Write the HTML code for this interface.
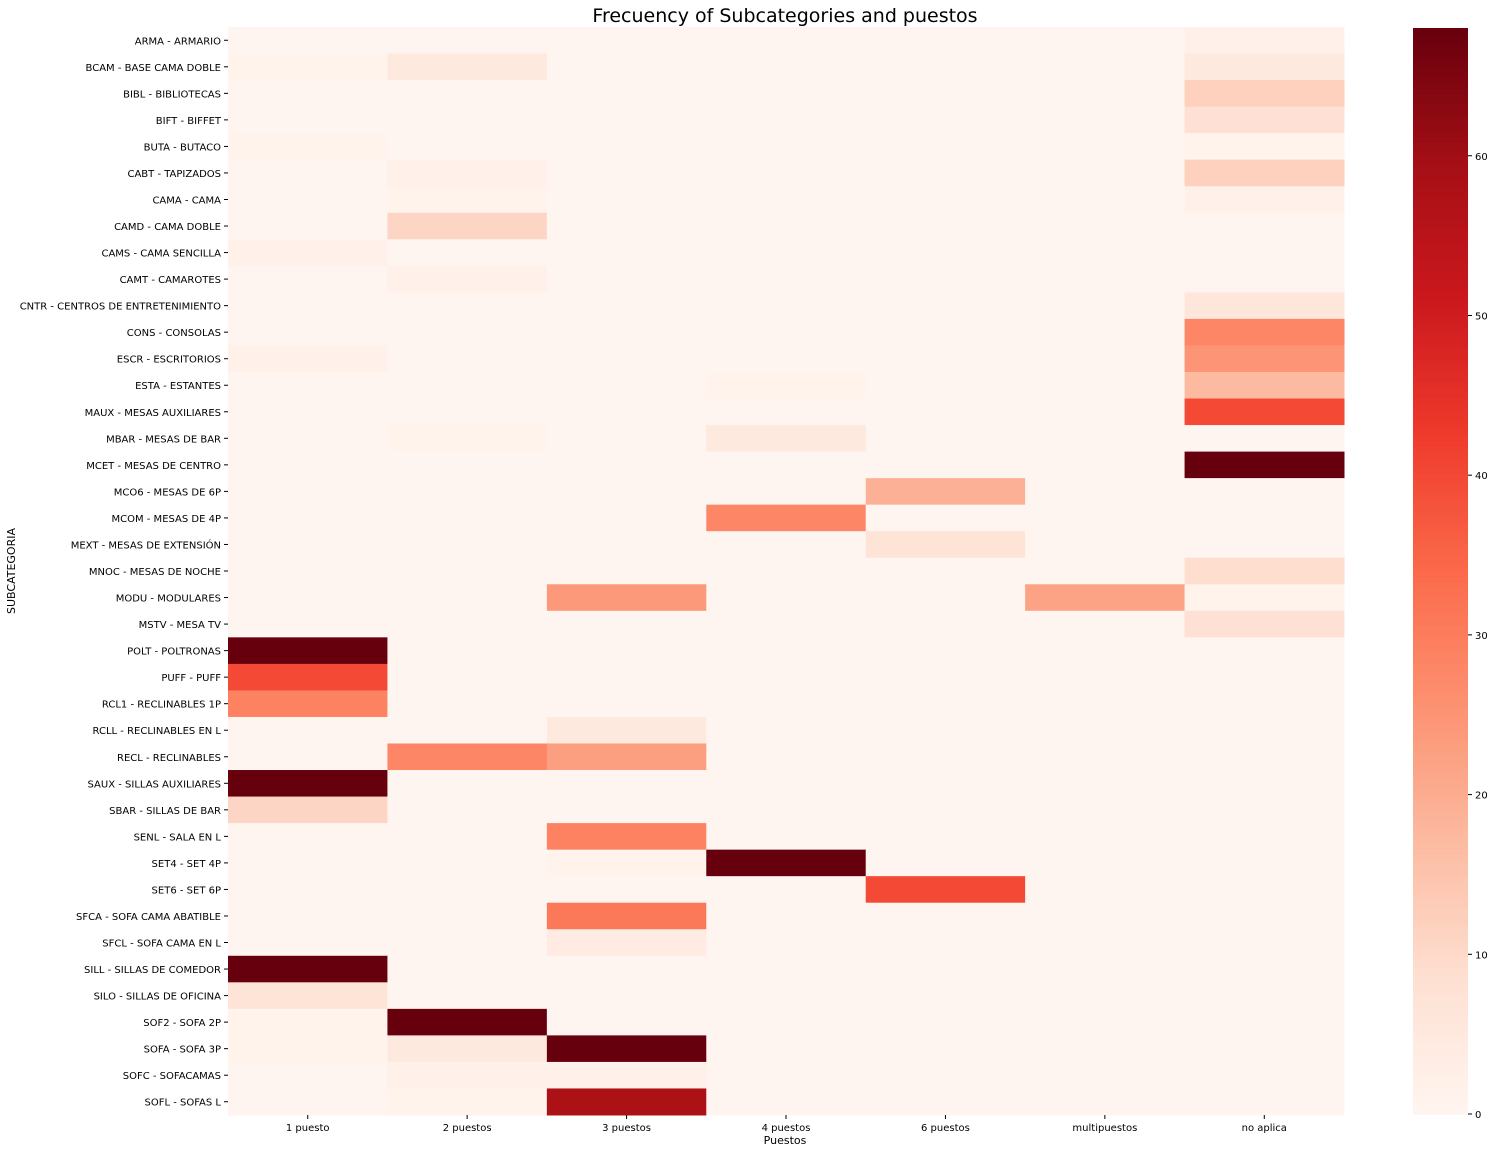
<!DOCTYPE html>
<html><head><meta charset="utf-8"><style>
body{margin:0;background:#fff;font-family:"Liberation Sans","DejaVu Sans",sans-serif}
svg text{font-family:"DejaVu Sans","Liberation Sans",sans-serif}
</style></head><body>
<svg id="chart" width="1494" height="1153" xmlns="http://www.w3.org/2000/svg">
<text x="785" y="22" font-size="19" text-anchor="middle">Frecuency of Subcategories and puestos</text>
<text x="785" y="1144" font-size="11" text-anchor="middle">Puestos</text>
<text x="15" y="571" font-size="11" text-anchor="middle" transform="rotate(-90 15 571)">SUBCATEGORIA</text>
<g id="cells"></g><g id="ylabels"></g><g id="xlabels"></g><g id="cbar"></g>
</svg>
<script>
const columns=["1 puesto","2 puestos","3 puestos","4 puestos","6 puestos","multipuestos","no aplica"];
const rows=["ARMA - ARMARIO","BCAM - BASE CAMA DOBLE","BIBL - BIBLIOTECAS","BIFT - BIFFET","BUTA - BUTACO","CABT - TAPIZADOS","CAMA - CAMA","CAMD - CAMA DOBLE","CAMS - CAMA SENCILLA","CAMT - CAMAROTES","CNTR - CENTROS DE ENTRETENIMIENTO","CONS - CONSOLAS","ESCR - ESCRITORIOS","ESTA - ESTANTES","MAUX - MESAS AUXILIARES","MBAR - MESAS DE BAR","MCET - MESAS DE CENTRO","MCO6 - MESAS DE 6P","MCOM - MESAS DE 4P","MEXT - MESAS DE EXTENSIÓN","MNOC - MESAS DE NOCHE","MODU - MODULARES","MSTV - MESA TV","POLT - POLTRONAS","PUFF - PUFF","RCL1 - RECLINABLES 1P","RCLL - RECLINABLES EN L","RECL - RECLINABLES","SAUX - SILLAS AUXILIARES","SBAR - SILLAS DE BAR","SENL - SALA EN L","SET4 - SET 4P","SET6 - SET 6P","SFCA - SOFA CAMA ABATIBLE","SFCL - SOFA CAMA EN L","SILL - SILLAS DE COMEDOR","SILO - SILLAS DE OFICINA","SOF2 - SOFA 2P","SOFA - SOFA 3P","SOFC - SOFACAMAS","SOFL - SOFAS L"];
const values=[
[0,0,0,0,0,0,2],[1,5,0,0,0,0,5],[0,0,0,0,0,0,12],[0,0,0,0,0,0,8],[1,0,0,0,0,0,1],
[0,2,0,0,0,0,12],[0,1,0,0,0,0,2],[0,11,0,0,0,0,0],[2,0,0,0,0,0,0],[0,2,0,0,0,0,0],
[0,0,0,0,0,0,6],[0,0,0,0,0,0,28],[2,0,0,0,0,0,25],[0,0,0,1,0,0,17],[0,0,0,0,0,0,40],
[0,1,0,5,0,0,0],[0,0,0,0,0,0,68],[0,0,0,0,19,0,0],[0,0,0,28,0,0,0],[0,0,0,0,7,0,0],
[0,0,0,0,0,0,9],[0,0,24,0,0,22,1],[0,0,0,0,0,0,8],[68,0,0,0,0,0,0],[40,0,0,0,0,0,0],
[29,0,0,0,0,0,0],[0,0,5,0,0,0,0],[0,28,23,0,0,0,0],[68,0,0,0,0,0,0],[11,0,0,0,0,0,0],
[0,0,29,0,0,0,0],[0,0,1,68,0,0,0],[0,0,0,0,40,0,0],[0,0,31,0,0,0,0],[0,0,4,0,0,0,0],
[68,0,0,0,0,0,0],[7,0,0,0,0,0,0],[1,68,0,0,0,0,0],[1,5,68,0,0,0,0],[0,2,2,0,0,0,0],[0,1,58,0,0,0,0]];
const cbarTicks=[0,10,20,30,40,50,60];
const VMAX=68;
const stops=["#fff5f0","#fee0d2","#fcbba1","#fc9272","#fb6a4a","#ef3b2c","#cb181d","#a50f15","#67000d"].map(h=>[1,3,5].map(i=>parseInt(h.substr(i,2),16)));
function color(v){let t=Math.max(0,Math.min(1,v/VMAX))*(stops.length-1);let i=Math.min(Math.floor(t),stops.length-2),f=t-i;
const c=stops[i].map((a,k)=>Math.round(a+(stops[i+1][k]-a)*f));return `rgb(${c})`;}
const NS="http://www.w3.org/2000/svg";
const X0=228,X1=1344,Y0=27,Y1=1115;
const cw=(X1-X0)/columns.length, rh=(Y1-Y0)/rows.length;
const xs=j=>X0+j*cw, ys=i=>Y0+i*rh;
function mk(tag,attrs,parent,txt){const e=document.createElementNS(NS,tag);for(const k in attrs)e.setAttribute(k,attrs[k]);if(txt!==undefined)e.textContent=txt;parent.appendChild(e);return e;}
const cells=document.getElementById('cells'),yl=document.getElementById('ylabels'),xl=document.getElementById('xlabels'),cb=document.getElementById('cbar');
values.forEach((r,i)=>r.forEach((v,j)=>{
 const e=mk('rect',{x:xs(j),y:ys(i),width:cw+0.5,height:rh+0.5,fill:color(v)},cells);
 
 
}));
rows.forEach((r,i)=>{const y=ys(i)+rh/2;
 mk('line',{x1:X0-4,x2:X0,y1:y,y2:y,stroke:'#000'},yl);
 const t=mk('text',{x:X0-7,y:y+4,'font-size':10,'text-anchor':'end'},yl,r);
 
 
});
columns.forEach((c,j)=>{const x=xs(j)+cw/2;
 mk('line',{x1:x,x2:x,y1:Y1,y2:Y1+4,stroke:'#000'},xl);
 const t=mk('text',{x:x,y:Y1+16,'font-size':10,'text-anchor':'middle'},xl,c);
 
 
});
const CX=1413,CW=55,CB0=1114,CB1=28;
const cy=v=>CB0-(CB0-CB1)*v/VMAX;
for(let k=0;k<200;k++){const v0=VMAX*k/200,v1=VMAX*(k+1)/200;
 mk('rect',{x:CX,y:cy(v1),width:CW,height:cy(v0)-cy(v1)+0.6,fill:color((v0+v1)/2)},cb);}
const cbr=mk('rect',{x:CX,y:CB1,width:CW,height:CB0-CB1,fill:'none',stroke:'none'},cb);


cbarTicks.forEach(v=>{const y=cy(v);
 mk('line',{x1:CX+CW,x2:CX+CW+4,y1:y,y2:y,stroke:'#000'},cb);
 const t=mk('text',{x:CX+CW+7,y:y+4,'font-size':10},cb,v);
 
 
});
</script>
</body></html>
